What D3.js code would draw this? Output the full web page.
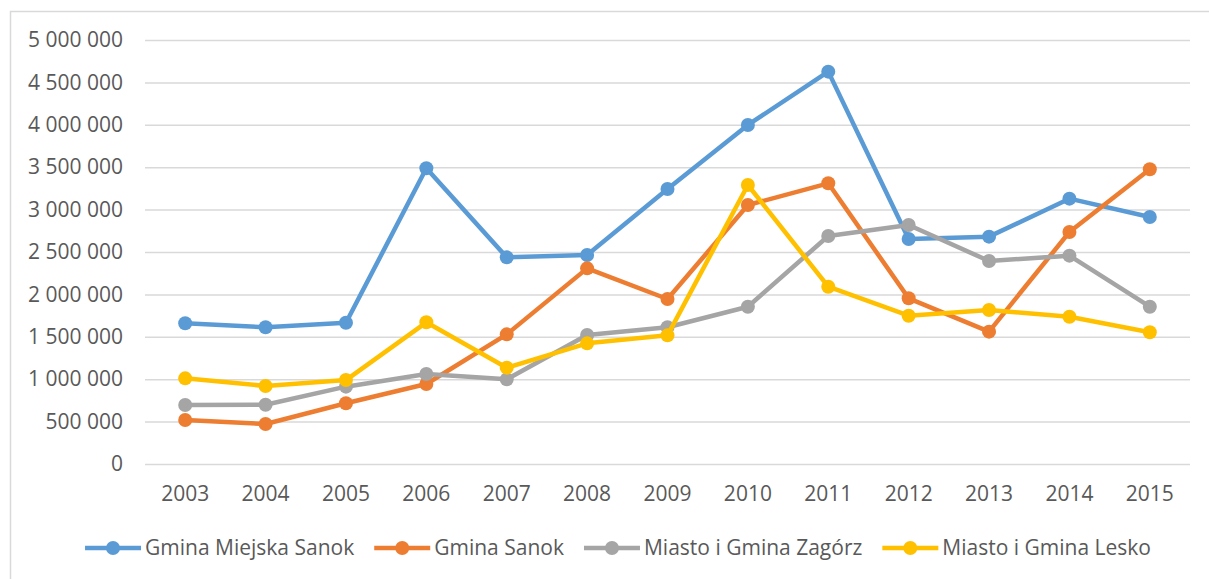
<!DOCTYPE html>
<html>
<head>
<meta charset="utf-8">
<script src="https://cdn.jsdelivr.net/npm/d3@7/dist/d3.min.js"></script>
<style>
  html, body { margin: 0; padding: 0; background: #fff; }
  svg { display: block; }
  text { font-family: "Open Sans", "Liberation Sans", sans-serif; fill: #595959; }
</style>
</head>
<body>
<svg id="chart" width="1209" height="579"></svg>
<script>
const years = ["2003","2004","2005","2006","2007","2008","2009","2010","2011","2012","2013","2014","2015"];
const yTicks = [0, 500000, 1000000, 1500000, 2000000, 2500000, 3000000, 3500000, 4000000, 4500000, 5000000];

const seriesNames = ["Gmina Miejska Sanok", "Gmina Sanok", "Miasto i Gmina Zagórz", "Miasto i Gmina Lesko"];
const miejskaSanok = [1659000, 1612000, 1666000, 3487000, 2437000, 2465000, 3243000, 3998000, 4627000, 2653000, 2681000, 3129000, 2913000];
const gminaSanok   = [519000, 472000, 716000, 943000, 1529000, 2307000, 1946000, 3054000, 3310000, 1954000, 1561000, 2736000, 3475000];
const zagorz       = [696000, 698000, 912000, 1061000, 998000, 1521000, 1612000, 1855000, 2689000, 2818000, 2394000, 2457000, 1855000];
const lesko        = [1010000, 920000, 990000, 1671000, 1136000, 1423000, 1517000, 3290000, 2091000, 1749000, 1816000, 1737000, 1553000];
const colors = ["#5B9BD5", "#ED7D31", "#A5A5A5", "#FFC000"];

const seriesValues = [miejskaSanok, gminaSanok, zagorz, lesko];
const fontSize = 21;

const svg = d3.select("#chart");

// outer chart frame
svg.append("rect")
  .attr("x", 10.5).attr("y", 11.5)
  .attr("width", 1220).attr("height", 600)
  .attr("fill", "none").attr("stroke", "#D9D9D9").attr("stroke-width", 1.5);

const plot = { left: 145, right: 1190, top: 40, bottom: 464 };

const x = d3.scaleBand().domain(years).range([plot.left, plot.right]);
const xc = d => x(d) + x.bandwidth() / 2;
const y = d3.scaleLinear().domain([0, 5000000]).range([plot.bottom, plot.top]);

const fmt = v => d3.format(",")(v).replace(/,/g, " ");

// horizontal gridlines and value labels
const yAxis = d3.axisLeft(y).tickValues(yTicks).tickSize(-(plot.right - plot.left)).tickPadding(22).tickFormat(fmt);
const gy = svg.append("g").attr("transform", `translate(${plot.left},0)`).call(yAxis);
gy.select(".domain").remove();
gy.selectAll(".tick line").attr("stroke", "#D9D9D9").attr("stroke-width", 1.5);
gy.selectAll(".tick text").attr("font-size", fontSize).attr("fill", "#595959")
  .style("font-family", '"Open Sans", "Liberation Sans", sans-serif');

// category axis labels
const xAxis = d3.axisBottom(x).tickSize(0).tickPadding(22);
const gx = svg.append("g").attr("transform", `translate(0,${plot.bottom})`).call(xAxis);
gx.select(".domain").remove();
gx.selectAll(".tick text").attr("font-size", fontSize).attr("fill", "#595959")
  .style("font-family", '"Open Sans", "Liberation Sans", sans-serif');

// series lines with markers
const line = d3.line().x((d, i) => xc(years[i])).y(d => y(d));
seriesValues.forEach((vals, si) => {
  const g = svg.append("g");
  g.append("path").datum(vals)
    .attr("d", line)
    .attr("fill", "none")
    .attr("stroke", colors[si])
    .attr("stroke-width", 4.5)
    .attr("stroke-linejoin", "round");
  g.selectAll("circle").data(vals).join("circle")
    .attr("cx", (d, i) => xc(years[i]))
    .attr("cy", d => y(d))
    .attr("r", 7)
    .attr("fill", colors[si]);
});

// legend
const legend = svg.append("g");
const legendY = 548;
let cursor = 0;
seriesNames.forEach((name, i) => {
  const item = legend.append("g");
  item.append("line").attr("x1", 0).attr("x2", 56).attr("y1", legendY).attr("y2", legendY)
    .attr("stroke", colors[i]).attr("stroke-width", 4.5);
  item.append("circle").attr("cx", 28).attr("cy", legendY).attr("r", 7).attr("fill", colors[i]);
  const t = item.append("text").attr("x", 60).attr("y", legendY).attr("dy", "0.35em")
    .attr("font-size", fontSize).text(name);
  const w = 60 + t.node().getComputedTextLength();
  item.attr("transform", `translate(${cursor},0)`);
  cursor += w + 20;
});
const total = cursor - 20;
legend.attr("transform", `translate(${618 - total / 2},0)`);
</script>
</body>
</html>
